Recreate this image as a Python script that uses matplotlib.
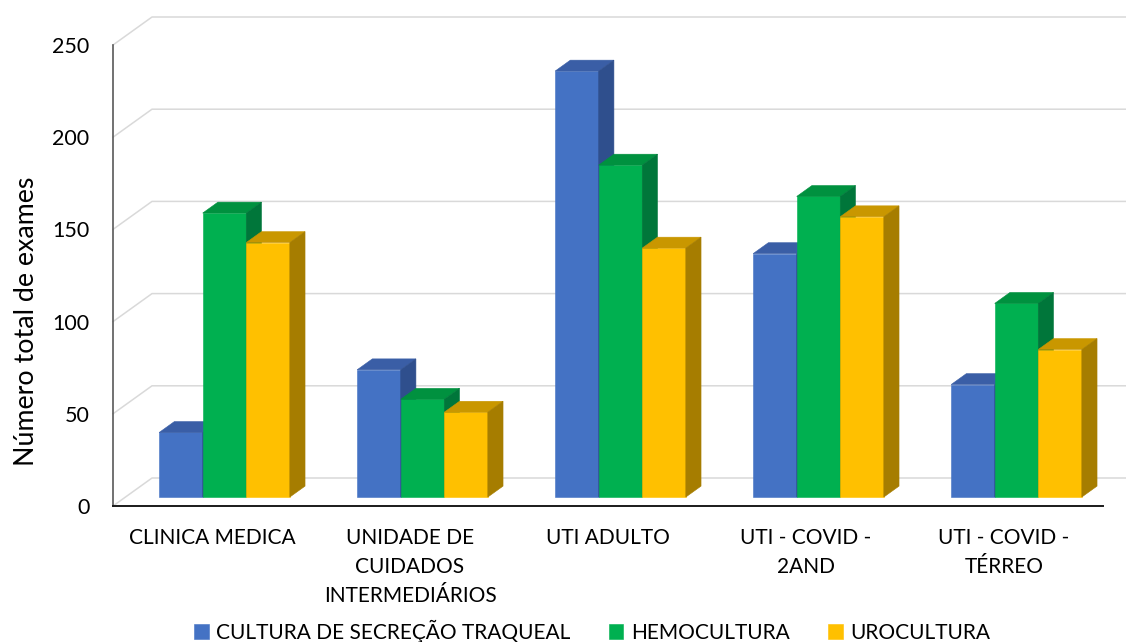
import matplotlib.pyplot as plt
from matplotlib.patches import Polygon

# Data
categories = ["CLINICA MEDICA", "UNIDADE DE\nCUIDADOS\nINTERMEDIÁRIOS", "UTI ADULTO",
              "UTI - COVID -\n2AND", "UTI - COVID -\nTÉRREO"]
series_names = ["CULTURA DE SECREÇÃO TRAQUEAL", "HEMOCULTURA", "UROCULTURA"]
traqueal = [35, 69, 231, 132, 61]
hemocultura = [154, 53, 180, 163, 105]
urocultura = [138, 46, 135, 152, 80]
yticks = [0, 50, 100, 150, 200, 250]

front_colors = ["#4472C4", "#00B050", "#FFC000"]
top_colors = ["#3A5EA6", "#00913F", "#C99700"]
side_colors = ["#2F4F8D", "#00763A", "#A67D00"]

plt.rcParams['font.family'] = ['Lato', 'DejaVu Sans']

fig = plt.figure(figsize=(11.26, 6.42), dpi=100)
ax = fig.add_axes([113 / 1126, 136 / 642, 990 / 1126, 461 / 642])
ax.set_xlim(-0.5, 4.5)
ax.set_ylim(0, 250)
ax.patch.set_visible(False)

# oblique depth of the floor (3D look), in data units
wall_dx = 39 / 198
wall_dy = 28 * 250 / 461
z0, z1 = 0.32, 0.71
width = 0.22
grid_color = "#D9D9D9"

# back wall + left wall gridlines
for v in yticks:
    ax.plot([-0.5, -0.5 + wall_dx, 4.5 + wall_dx], [v, v + wall_dy, v + wall_dy],
            color=grid_color, lw=1.1, clip_on=False, zorder=0)

# bars
base = z0 * wall_dy
ddx = (z1 - z0) * wall_dx
ddy = (z1 - z0) * wall_dy
for j, vals in enumerate([traqueal, hemocultura, urocultura]):
    xs = [i + (j - 1) * width - width / 2 + z0 * wall_dx for i in range(len(categories))]
    zo = 2 + j
    ax.bar(xs, vals, width, bottom=base, align='edge', color=front_colors[j],
           edgecolor=front_colors[j], lw=0.4, zorder=zo, clip_on=False,
           label=series_names[j])
    for x, v in zip(xs, vals):
        top = base + v
        ax.add_patch(Polygon([(x, top), (x + width, top), (x + width + ddx, top + ddy),
                              (x + ddx, top + ddy)], closed=True, fc=top_colors[j],
                             ec=top_colors[j], lw=0.4, zorder=zo, clip_on=False))
        ax.add_patch(Polygon([(x + width, base), (x + width + ddx, base + ddy),
                              (x + width + ddx, top + ddy), (x + width, top)], closed=True,
                             fc=side_colors[j], ec=side_colors[j], lw=0.4, zorder=zo,
                             clip_on=False))

# axes
for s in ["top", "right"]:
    ax.spines[s].set_visible(False)
ax.spines["left"].set_color("#595959")
ax.spines["left"].set_linewidth(1.2)
ax.spines["bottom"].set_color("#1A1A1A")
ax.spines["bottom"].set_linewidth(1.4)
ax.spines["left"].set_zorder(10)
ax.spines["bottom"].set_zorder(10)

ax.set_yticks(yticks)
ax.set_yticklabels([str(t) for t in yticks], fontsize=15.5)
ax.set_xticks(range(len(categories)))
ax.set_xticklabels(categories, fontsize=15, linespacing=1.56, va='top')
ax.tick_params(axis='y', length=0, pad=17)
ax.tick_params(axis='x', length=0, pad=16)
ax.set_ylabel("Número total de exames", fontsize=19.3)
ax.yaxis.set_label_coords(-74 / 990, 0.4)

fig.legend(loc='center', bbox_to_anchor=(592 / 1126, 1 - 631 / 642), ncol=3,
           frameon=False, fontsize=15, handlelength=0.7, handleheight=0.7,
           handletextpad=0.35, columnspacing=1.85)

fig.savefig("out.png", dpi=100)
